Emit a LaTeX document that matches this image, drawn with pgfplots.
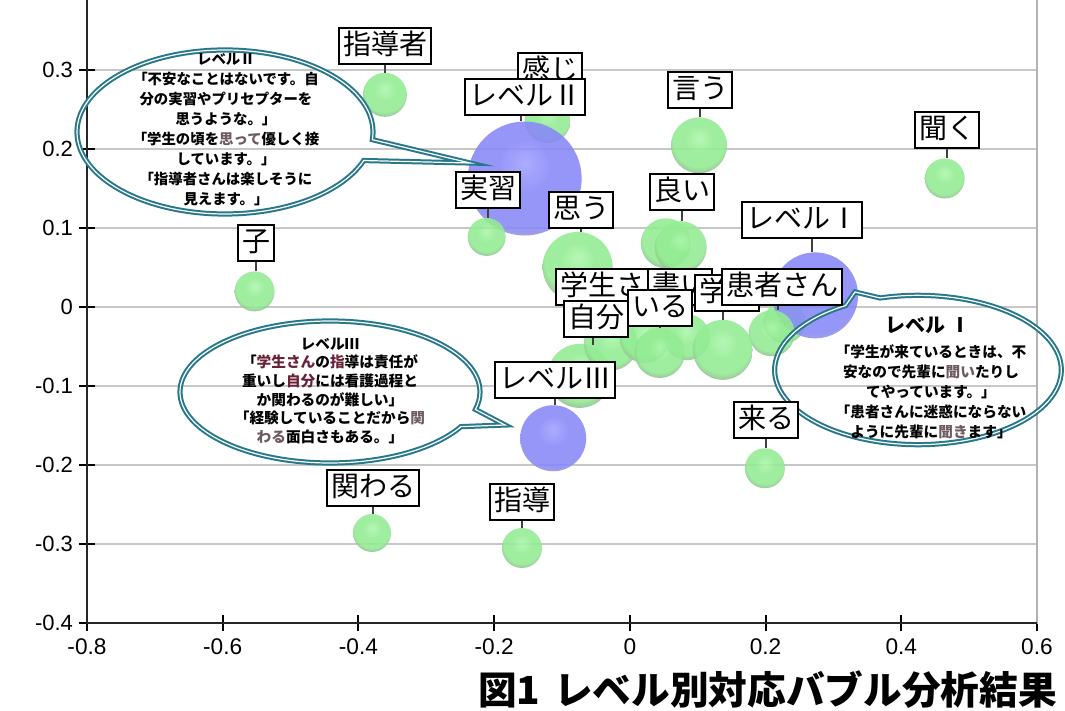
\documentclass[border=0pt]{standalone}
\usepackage{fontspec}
\setmainfont{Liberation Sans}
\newfontfamily\jp{Noto Sans CJK JP}
\usepackage{pgfplots}
\usepackage{pgfplotstable}
\pgfplotsset{compat=1.18}
\usetikzlibrary{shapes.callouts}

\definecolor{gLight}{RGB}{172,246,172}
\definecolor{gMain}{RGB}{146,236,146}
\definecolor{gRim}{RGB}{145,172,145}
\definecolor{gEdge}{RGB}{135,135,135}
\definecolor{bLight}{RGB}{160,160,255}
\definecolor{bMain}{RGB}{135,135,248}
\definecolor{bRim}{RGB}{155,155,205}
\definecolor{bEdge}{RGB}{145,145,155}
\definecolor{teal2}{RGB}{40,120,140}
\definecolor{hlred}{RGB}{105,35,55}
\definecolor{hlgray}{RGB}{110,90,95}

\pgfdeclareradialshading{gshade}{\pgfpoint{0bp}{7bp}}{color(0bp)=(gLight); color(12bp)=(gMain); color(23bp)=(gMain); color(30bp)=(gRim); color(50bp)=(gEdge)}
\pgfdeclareradialshading{bshade}{\pgfpoint{0bp}{7bp}}{color(0bp)=(bLight); color(12bp)=(bMain); color(25bp)=(bMain); color(31bp)=(bRim); color(50bp)=(bEdge)}
\pgfdeclareplotmark{gball}{\pgfpathcircle{\pgfpointorigin}{\pgfplotmarksize}\pgfshadepath{gshade}{0}\pgfusepath{discard}}
\pgfdeclareplotmark{bball}{\pgfpathcircle{\pgfpointorigin}{\pgfplotmarksize}\pgfshadepath{bshade}{0}\pgfusepath{discard}}

\pgfplotstableread{
x y r
-0.121 0.237 23
0.053 0.081 25
0.228 -0.019 21
}\greenback
\pgfplotstableread{
x y r
-0.155 0.163 57
0.273 0.015 43
-0.113 -0.166 33
}\blue
\pgfplotstableread{
x y r
-0.361 0.269 22
0.102 0.205 28
0.464 0.163 20
-0.211 0.089 19
-0.553 0.020 20
-0.077 0.051 35
0.075 0.076 26
0.209 -0.033 23
-0.074 -0.087 32
-0.028 -0.046 27
0.022 -0.039 25
0.084 -0.038 23
0.044 -0.058 25
0.137 -0.054 30
0.199 -0.204 20
-0.380 -0.286 19
-0.159 -0.305 20
}\greenfront

\tikzset{
  lab/.style={draw=black, line width=1.3pt, fill=white, font=\jp\fontsize{21}{21}\selectfont,
    inner xsep=3pt, inner ysep=3pt, text height=17pt, text depth=3.5pt},
  stem/.style={draw=black!75, line width=1.5pt},
  bub/.style={ellipse callout, draw=teal2, double=white, line width=1.5pt, double distance=0.9pt, inner sep=0pt},
}
\pgfplotsset{
  bubbles/.style={scatter, only marks, mark=#1,
    scatter/use mapped color={draw=black, fill=black},
    visualization depends on={0.75*\thisrow{r}\as\rad},
    scatter/@pre marker code/.append style={/tikz/mark size=\rad},
    mark options={opacity=0.88}}
}
\newcommand\lab[5]{\draw[stem] (#4,#2) -- (#4,#5); \node[lab] at (#1,#2) {#3};}

\begin{document}
\begin{tikzpicture}
\begin{axis}[
  at={(0,0)}, anchor=south west, scale only axis,
  width=712.5pt, height=473.7pt,
  xmin=-0.8, xmax=0.6, ymin=-0.4, ymax=0.4,
  xtick={-0.8,-0.6,-0.4,-0.2,0,0.2,0.4,0.6},
  ytick={-0.4,-0.3,-0.2,-0.1,0,0.1,0.2,0.3,0.4},
  ymajorgrids, grid style={draw=black!22, line width=1.4pt},
  axis line style={draw=black!30, line width=1.4pt},
  tick style={black, line width=1.6pt}, major tick length=12pt,
  tick align=center, tickpos=left, clip=false,
  yticklabel style={font=\fontsize{16.5}{18}\selectfont, xshift=-1pt},
  xticklabel style={font=\fontsize{17}{19}\selectfont, yshift=-2pt},
  /pgf/number format/assume math mode=true,
  scaled ticks=false,
]
\addplot[bubbles=gball] table[x=x,y=y] {\greenback};
\addplot[bubbles=bball] table[x=x,y=y] {\blue};
\addplot[bubbles=gball] table[x=x,y=y] {\greenfront};
\draw[black!85, line width=2.2pt] (rel axis cs:0,1) -- (rel axis cs:0,0) -- (rel axis cs:1,0);
\end{axis}

\begin{scope}[shift={(-65.25pt,467.25pt)}, x=0.75pt, y=-0.75pt]
% callouts
\node[bub, minimum width=222pt, minimum height=123pt, callout absolute pointer={(470,163)}] at (225,132) {};
\node[bub, minimum width=225pt, minimum height=106.5pt, callout absolute pointer={(505,425)}] at (330,392) {};
\node[bub, minimum width=215pt, minimum height=112pt, callout absolute pointer={(855,292)}] at (918,370) {};

\node[font=\jp\bfseries\fontsize{10.8}{15}\selectfont, align=center] at (226,130)
 {レベルⅡ\\「不安なことはないです。自\\分の実習やプリセプターを\\思うような。」\\「学生の頃を\textcolor{hlgray}{思って}優しく接\\しています。」\\「指導者さんは楽しそうに\\見えます。」};
\node[font=\jp\bfseries\fontsize{11}{14}\selectfont, align=center] at (330,391)
 {レベルⅢ\\「\textcolor{hlred}{学生さん}の\textcolor{hlred}{指}導は責任が\\重いし\textcolor{hlred}{自分}には看護過程と\\か関わるのが難しい」\\「経験していることだから\textcolor{hlgray}{関}\\\textcolor{hlgray}{わる}面白さもある。」};
\node[font=\jp\bfseries\fontsize{15}{15}\selectfont] at (928,325) {レベル Ⅰ};
\node[font=\jp\bfseries\fontsize{11}{15}\selectfont, align=center] at (931,392)
 {「学生が来ているときは、不\\安なので先輩に\textcolor{hlgray}{聞い}たりし\\てやっています。」\\「患者さんに迷惑にならない\\ように先輩に\textcolor{hlgray}{聞き}ます」};

% labels
\lab{385}{46}{指導者}{385}{73}
\lab{550}{71}{感じ}{550}{97}
\lab{525}{97}{レベルⅡ}{521}{121}
\lab{700}{90}{言う}{700}{117}
\lab{947}{130}{聞く}{947}{158}
\lab{488}{190}{実習}{488}{218}
\lab{256}{243}{子}{256}{271}
\lab{581}{210}{思う}{581}{232}
\lab{682}{192}{良い}{682}{221}
\lab{802}{220}{レベルⅠ}{812}{252}
\node[lab] at (616,287) {学生さん};
\node[lab] at (680,287) {書い};
\lab{727}{293}{学ぶ}{723}{320}
\lab{782}{287}{患者さん}{778}{310}
\lab{660}{308}{いる}{660}{328}
\lab{596}{319}{自分}{593}{345}
\lab{555}{380}{レベルⅢ}{555}{405}
\lab{766}{420}{来る}{766}{448}
\lab{373}{488}{関わる}{373}{514}
\lab{522}{502}{指導}{522}{528}

\node[anchor=base east, font=\jp\bfseries\fontsize{29}{29}\selectfont, inner sep=0pt] at (1057,705) {図1\hspace{0.35em}レベル別対応バブル分析結果};

\pgfresetboundingbox
\path[use as bounding box] (0,0) rectangle (1065,711);
\end{scope}
\end{tikzpicture}
\end{document}
